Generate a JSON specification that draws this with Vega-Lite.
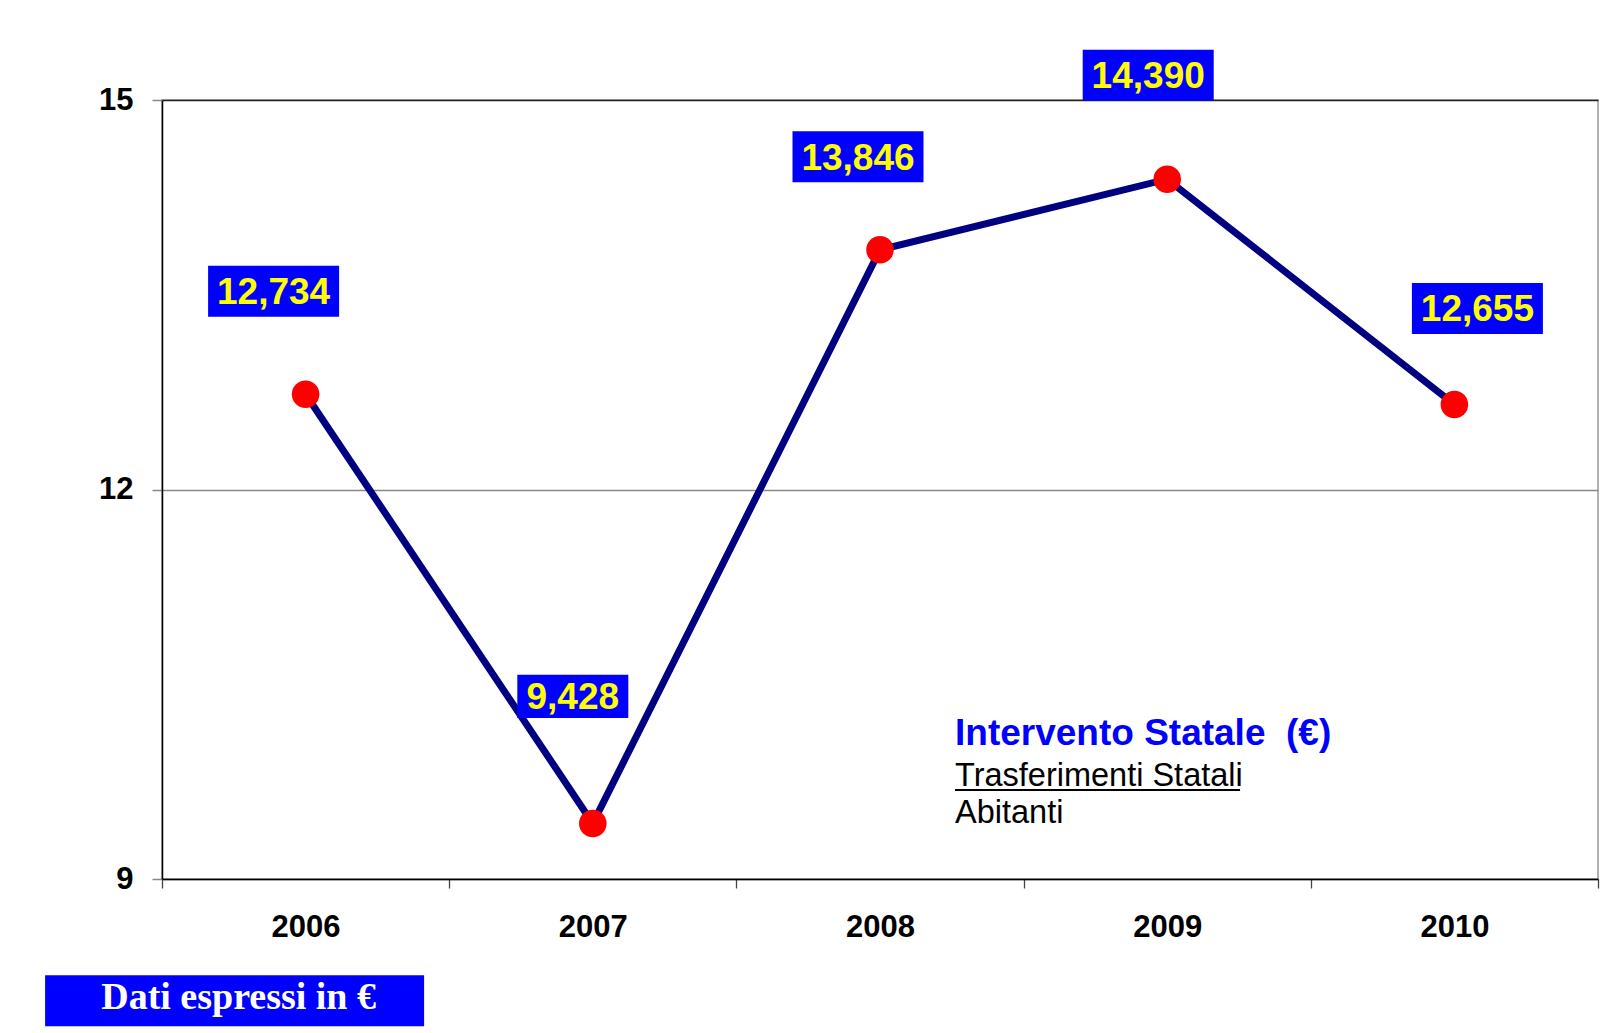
{
  "$schema": "https://vega.github.io/schema/vega-lite/v6.json",
  "width": 1436,
  "height": 779,
  "autosize": {"type": "none"},
  "padding": {"left": 162, "top": 100, "right": 21, "bottom": 154},
  "background": "#ffffff",
  "config": {
    "view": {"stroke": "#999999", "strokeWidth": 1.5},
    "font": "Liberation Sans"
  },
  "data": {
    "values": [
      {"year": "2006", "value": 12.734, "label": "12,734"},
      {"year": "2007", "value": 9.428, "label": "9,428"},
      {"year": "2008", "value": 13.846, "label": "13,846"},
      {"year": "2009", "value": 14.39, "label": "14,390"},
      {"year": "2010", "value": 12.655, "label": "12,655"}
    ]
  },
  "layer": [
    {
      "mark": {"type": "line", "color": "#000080", "strokeWidth": 7},
      "encoding": {
        "x": {
          "field": "year", "type": "ordinal",
          "scale": {"paddingInner": 0, "paddingOuter": 0},
          "axis": {
            "title": null, "labelAngle": 0,
            "labelFont": "Liberation Sans", "labelFontSize": 31, "labelFontWeight": "bold", "labelColor": "#000000",
            "labelPadding": 24,
            "tickBand": "extent", "tickSize": 9, "tickColor": "#444444", "tickWidth": 1.3,
            "domainColor": "#000000", "domainWidth": 1.5
          }
        },
        "y": {
          "field": "value", "type": "quantitative",
          "scale": {"domain": [9, 15], "nice": false, "zero": false},
          "axis": {
            "title": null, "values": [9, 12, 15], "format": "d",
            "labelFont": "Liberation Sans", "labelFontSize": 31, "labelFontWeight": "bold", "labelColor": "#000000",
            "labelPadding": 19,
            "tickSize": 10, "tickColor": "#888888", "tickWidth": 1.5,
            "domainColor": "#000000", "domainWidth": 1.5,
            "grid": true,
            "gridColor": {"condition": {"test": "datum.value == 15", "value": "#222222"}, "value": "#888888"},
            "gridWidth": 1.5
          }
        }
      }
    },
    {
      "mark": {"type": "point", "filled": true, "shape": "circle", "size": 760, "color": "#ff0000", "opacity": 1},
      "encoding": {
        "x": {"field": "year", "type": "ordinal"},
        "y": {"field": "value", "type": "quantitative"}
      }
    },
    {
      "transform": [{"filter": "datum.year == '2006'"}],
      "encoding": {
        "x": {"field": "year", "type": "ordinal"},
        "y": {"field": "value", "type": "quantitative"},
        "text": {"field": "label"}
      },
      "layer": [
        {"mark": {"type": "point", "shape": "M-1,-0.39H1V0.39H-1Z", "size": 17161, "filled": true, "color": "#0000ff", "opacity": 1, "xOffset": -32, "yOffset": -103}},
        {"mark": {"type": "text", "font": "Liberation Sans", "fontSize": 37, "fontWeight": "bold", "color": "#ffff00", "align": "center", "baseline": "middle", "xOffset": -32, "yOffset": -101}}
      ]
    },
    {
      "transform": [{"filter": "datum.year == '2007'"}],
      "encoding": {
        "x": {"field": "year", "type": "ordinal"},
        "y": {"field": "value", "type": "quantitative"},
        "text": {"field": "label"}
      },
      "layer": [
        {"mark": {"type": "point", "shape": "M-1,-0.39H1V0.39H-1Z", "size": 12321, "filled": true, "color": "#0000ff", "opacity": 1, "xOffset": -20, "yOffset": -127}},
        {"mark": {"type": "text", "font": "Liberation Sans", "fontSize": 37, "fontWeight": "bold", "color": "#ffff00", "align": "center", "baseline": "middle", "xOffset": -20, "yOffset": -125}}
      ]
    },
    {
      "transform": [{"filter": "datum.year == '2008'"}],
      "encoding": {
        "x": {"field": "year", "type": "ordinal"},
        "y": {"field": "value", "type": "quantitative"},
        "text": {"field": "label"}
      },
      "layer": [
        {"mark": {"type": "point", "shape": "M-1,-0.39H1V0.39H-1Z", "size": 17161, "filled": true, "color": "#0000ff", "opacity": 1, "xOffset": -22, "yOffset": -93}},
        {"mark": {"type": "text", "font": "Liberation Sans", "fontSize": 37, "fontWeight": "bold", "color": "#ffff00", "align": "center", "baseline": "middle", "xOffset": -22, "yOffset": -91}}
      ]
    },
    {
      "transform": [{"filter": "datum.year == '2009'"}],
      "encoding": {
        "x": {"field": "year", "type": "ordinal"},
        "y": {"field": "value", "type": "quantitative"},
        "text": {"field": "label"}
      },
      "layer": [
        {"mark": {"type": "point", "shape": "M-1,-0.39H1V0.39H-1Z", "size": 17161, "filled": true, "color": "#0000ff", "opacity": 1, "xOffset": -19, "yOffset": -104}},
        {"mark": {"type": "text", "font": "Liberation Sans", "fontSize": 37, "fontWeight": "bold", "color": "#ffff00", "align": "center", "baseline": "middle", "xOffset": -19, "yOffset": -102}}
      ]
    },
    {
      "transform": [{"filter": "datum.year == '2010'"}],
      "encoding": {
        "x": {"field": "year", "type": "ordinal"},
        "y": {"field": "value", "type": "quantitative"},
        "text": {"field": "label"}
      },
      "layer": [
        {"mark": {"type": "point", "shape": "M-1,-0.39H1V0.39H-1Z", "size": 17161, "filled": true, "color": "#0000ff", "opacity": 1, "xOffset": 23, "yOffset": -96}},
        {"mark": {"type": "text", "font": "Liberation Sans", "fontSize": 37, "fontWeight": "bold", "color": "#ffff00", "align": "center", "baseline": "middle", "xOffset": 23, "yOffset": -94}}
      ]
    },
    {
      "data": {"values": [{"t": "Intervento Statale\u00a0 (€)"}]},
      "mark": {"type": "text", "font": "Liberation Sans", "fontSize": 37, "fontWeight": "bold", "color": "#0000ff", "align": "left", "baseline": "alphabetic", "xOffset": 75, "yOffset": -4},
      "encoding": {"x": {"datum": "2008", "type": "ordinal"}, "y": {"datum": 10, "type": "quantitative"}, "text": {"field": "t"}}
    },
    {
      "data": {"values": [{"t": "Trasferimenti Statali"}]},
      "mark": {"type": "text", "font": "Liberation Sans", "fontSize": 32.5, "color": "#000000", "align": "left", "baseline": "alphabetic", "xOffset": 75, "yOffset": -2},
      "encoding": {"x": {"datum": "2008", "type": "ordinal"}, "y": {"datum": 9.7, "type": "quantitative"}, "text": {"field": "t"}}
    },
    {
      "data": {"values": [{"t": "underline"}]},
      "mark": {"type": "rule", "color": "#000000", "strokeWidth": 2, "xOffset": 75, "x2Offset": 360, "yOffset": 2},
      "encoding": {"x": {"datum": "2008", "type": "ordinal"}, "x2": {"datum": "2008"}, "y": {"datum": 9.7, "type": "quantitative"}}
    },
    {
      "data": {"values": [{"t": "Abitanti"}]},
      "mark": {"type": "text", "font": "Liberation Sans", "fontSize": 32.5, "color": "#000000", "align": "left", "baseline": "alphabetic", "xOffset": 75, "yOffset": -4},
      "encoding": {"x": {"datum": "2008", "type": "ordinal"}, "y": {"datum": 9.4, "type": "quantitative"}, "text": {"field": "t"}}
    },
    {
      "data": {"values": [{"t": "Dati espressi in €"}]},
      "layer": [
        {"mark": {"type": "point", "shape": "M-1,-0.1346H1V0.1346H-1Z", "size": 143641, "filled": true, "color": "#0000ff", "opacity": 1, "xOffset": -71, "yOffset": -8}},
        {"mark": {"type": "text", "font": "Liberation Serif", "fontSize": 38, "fontWeight": "bold", "color": "#ffffff", "align": "center", "baseline": "alphabetic", "xOffset": -67, "yOffset": 0}}
      ],
      "encoding": {"x": {"datum": "2006", "type": "ordinal"}, "y": {"datum": 8, "type": "quantitative"}, "text": {"field": "t"}}
    }
  ]
}
